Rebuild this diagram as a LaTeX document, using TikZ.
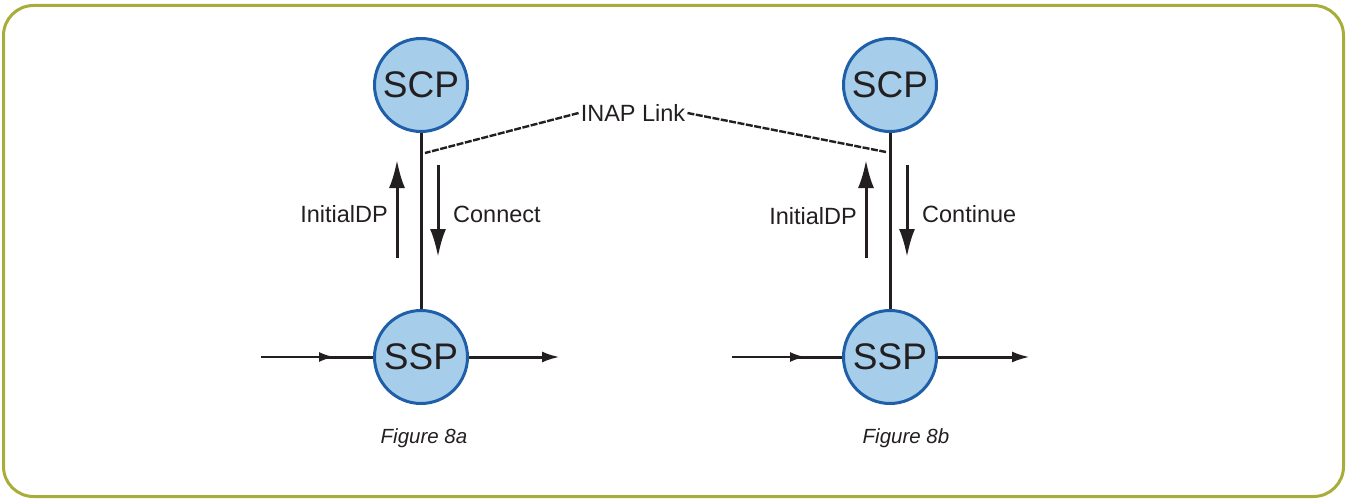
\documentclass[tikz,border=0pt]{standalone}
\usepackage{fontspec}
\setmainfont{Liberation Sans}
\usetikzlibrary{arrows.meta}
\definecolor{frameol}{HTML}{A8AD3A}
\definecolor{nodefill}{HTML}{A6CDEA}
\definecolor{nodeedge}{HTML}{1F5FA8}
\definecolor{ink}{HTML}{231F20}
\tikzset{
  station/.style={circle, draw=nodeedge, fill=nodefill, line width=3pt, minimum size=93pt, inner sep=0pt, font=\fontsize{37}{40}\selectfont, text=ink},
  msg/.style={line width=3pt, draw=ink, -{Latex[length=28pt,width=16pt]}},
  lbl/.style={font=\fontsize{23.5}{26}\selectfont, text=ink, inner sep=0pt},
  figlbl/.style={font=\fontsize{20.5}{23}\selectfont\itshape, text=ink, inner sep=0pt},
  trunk/.style={line width=3pt, draw=ink},
  inarrow/.style={line width=2pt, draw=ink, -{Latex[length=15pt,width=10pt]}},
  outarrow/.style={line width=3pt, draw=ink, -{Latex[length=18pt,width=11pt]}},
  inap/.style={line width=2.4pt, draw=ink, dash pattern=on 7pt off 1.5pt}
}
\begin{document}
\begin{tikzpicture}[x=1pt,y=-1pt]
\useasboundingbox (0,0) rectangle (1347,500);
\draw[frameol, line width=3pt, rounded corners=30pt] (3.5,5.5) rectangle (1343.5,496.5);

% left figure
\node[station] (scpa) at (421,85) {SCP};
\node[station] (sspa) at (421,357) {SSP};
\draw[trunk] (scpa.south) -- (sspa.north);
\coordinate (idpa0) at (397,258); \coordinate (idpa1) at (397,160);
\coordinate (cona0) at (438,165); \coordinate (cona1) at (438,257);
\draw[msg] (idpa0) -- (idpa1);
\draw[msg] (cona0) -- (cona1);
\node[lbl, anchor=east] (idpalbl) at (388,214) {InitialDP};
\node[lbl, anchor=west] (conalbl) at (453,214) {Connect};
\coordinate (ina0) at (261,357); \coordinate (ina1) at (334,357);
\draw[trunk] ([xshift=-8pt]ina1) -- (sspa.west);
\draw[inarrow] (ina0) -- (ina1);
\coordinate (outa) at (560,357);
\draw[outarrow] (sspa.east) -- (outa);
\node[figlbl] (figa) at (424,438) {Figure 8a};

% right figure
\node[station] (scpb) at (890,85) {SCP};
\node[station] (sspb) at (890,357) {SSP};
\draw[trunk] (scpb.south) -- (sspb.north);
\coordinate (idpb0) at (866,258); \coordinate (idpb1) at (866,160);
\coordinate (conb0) at (907,165); \coordinate (conb1) at (907,257);
\draw[msg] (idpb0) -- (idpb1);
\draw[msg] (conb0) -- (conb1);
\node[lbl, anchor=east] (idpblbl) at (857,216) {InitialDP};
\node[lbl, anchor=west] (conblbl) at (922,214) {Continue};
\coordinate (inb0) at (732,357); \coordinate (inb1) at (805,357);
\draw[trunk] ([xshift=-8pt]inb1) -- (sspb.west);
\draw[inarrow] (inb0) -- (inb1);
\coordinate (outb) at (1030,357);
\draw[outarrow] (sspb.east) -- (outb);
\node[figlbl] (figb) at (906,438) {Figure 8b};

% INAP link
\node[lbl] (inap) at (633,113) {INAP Link};
\coordinate (inapa) at (425,153);
\coordinate (inapb) at (886,152);
\draw[inap] ([xshift=-2pt]inap.west) -- (inapa);
\draw[inap] ([xshift=2pt]inap.east) -- (inapb);
\end{tikzpicture}
\end{document}
